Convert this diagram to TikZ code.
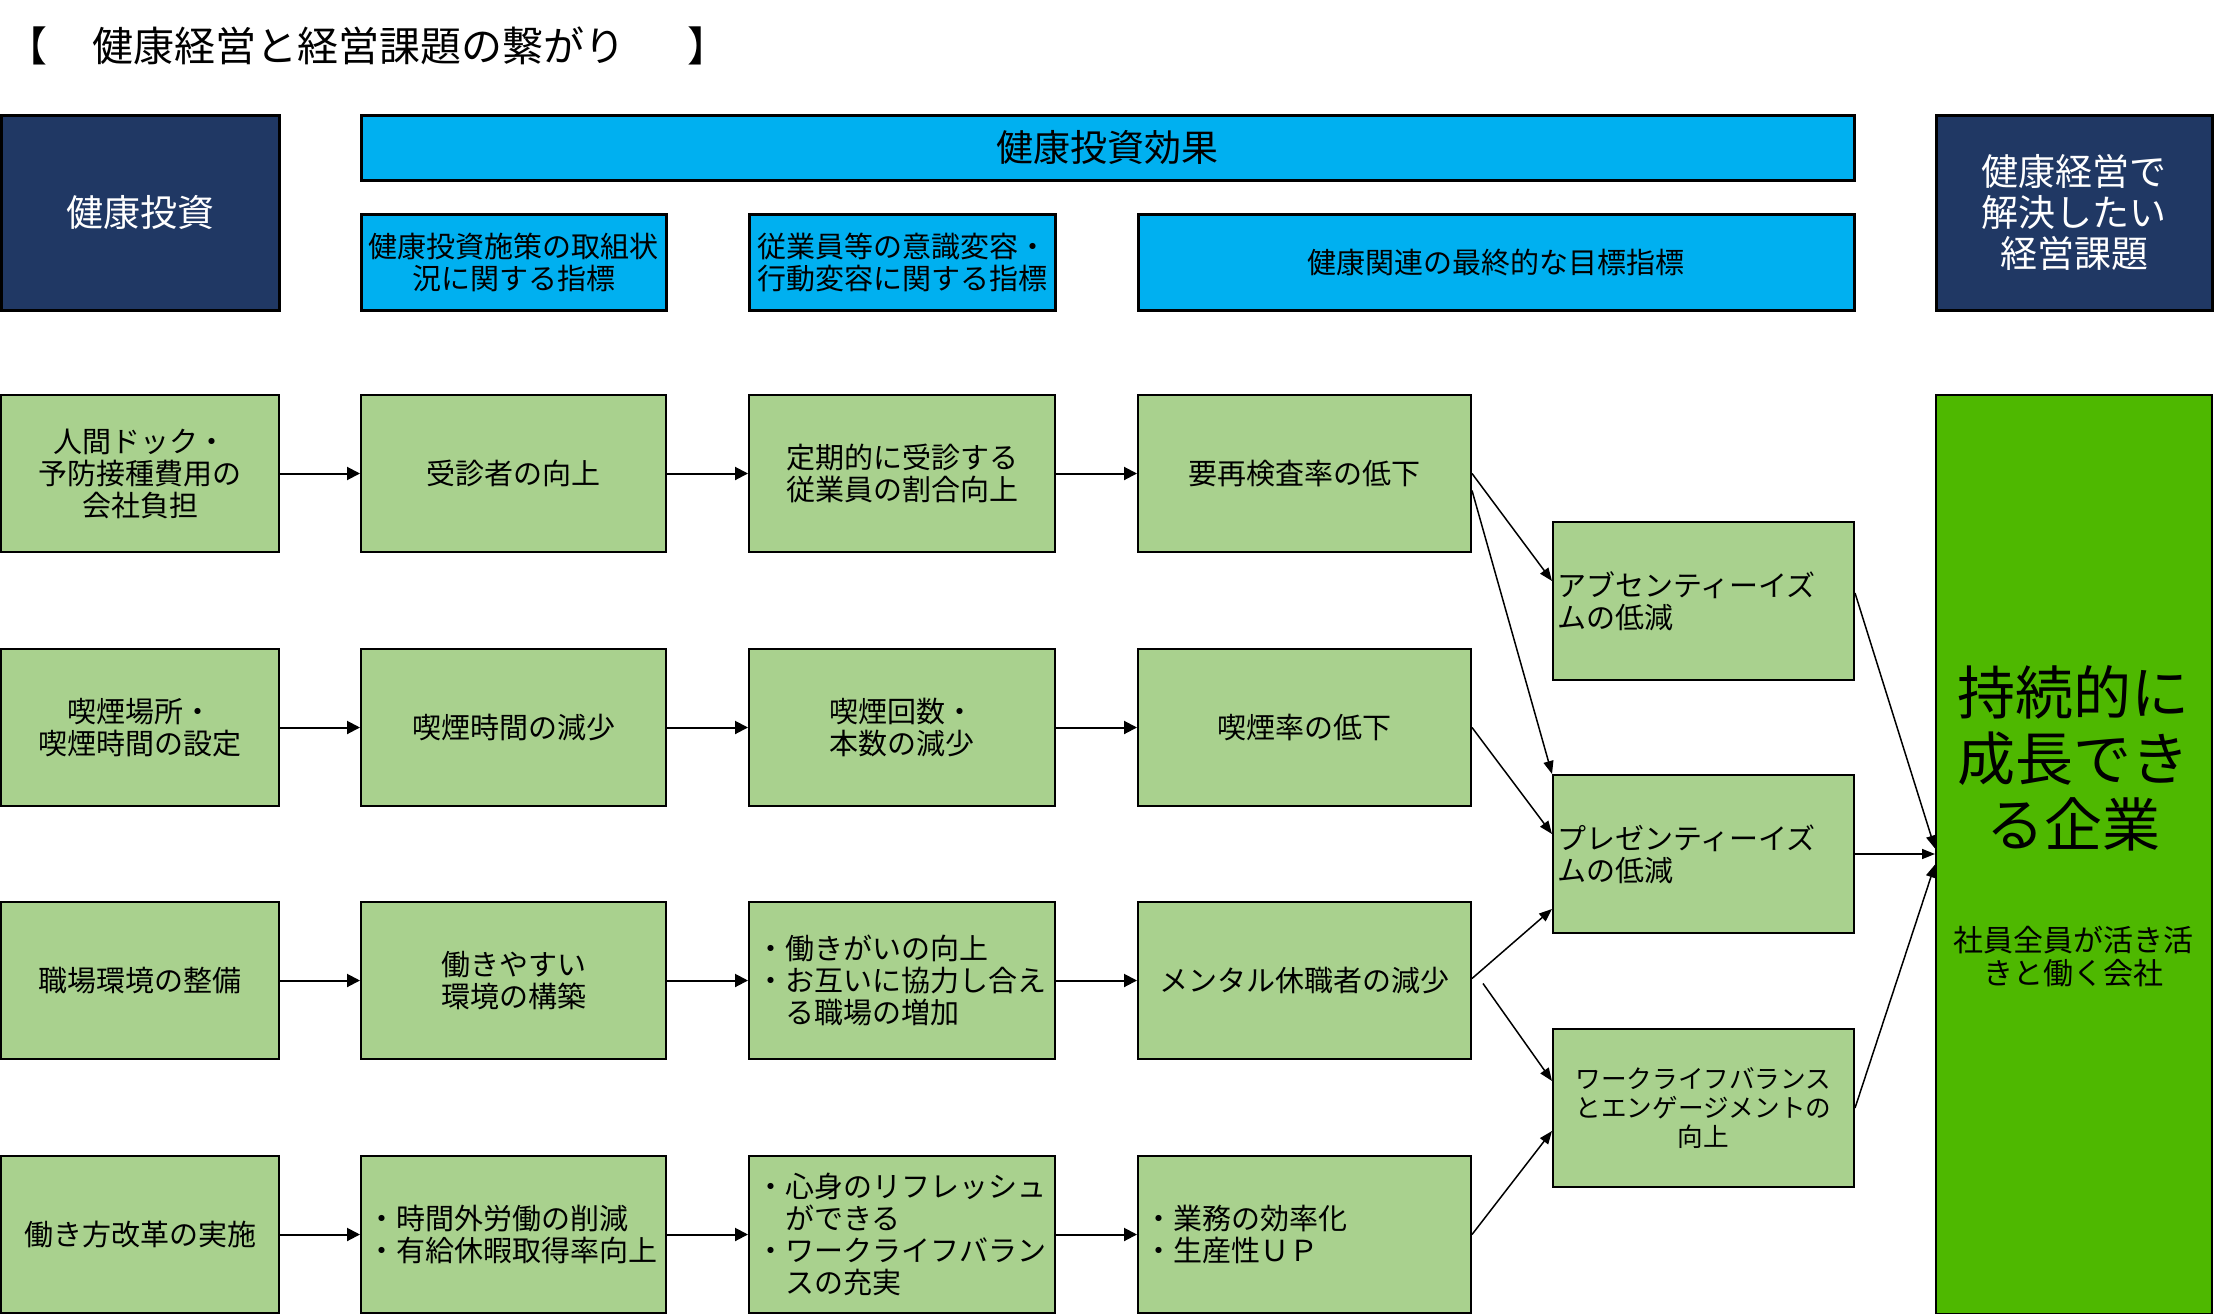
\documentclass[tikz,border=0pt]{standalone}
\usepackage{fontspec}
\setmainfont{Noto Sans CJK JP}
\usetikzlibrary{arrows.meta,calc}
\definecolor{navyc}{RGB}{32,56,100}
\definecolor{cyanc}{RGB}{0,176,240}
\definecolor{lgreen}{RGB}{169,209,142}
\definecolor{bgreen}{RGB}{78,184,0}
\newcommand\fsN{\fontsize{29}{32}\selectfont}
\newcommand\fsH{\fontsize{37}{41}\selectfont}
\begin{document}
\begin{tikzpicture}[x=1pt,y=-1pt,
  base/.style={draw=black, anchor=north west, inner sep=2pt, align=center, font=\fsN},
  navybox/.style={base, line width=2.5pt, fill=navyc, text=white, font=\fsH},
  cyanbox/.style={base, line width=2.5pt, fill=cyanc},
  gbox/.style={base, line width=2pt, fill=lgreen},
  w1/.style={minimum width=278pt, minimum height=157pt},
  w2/.style={minimum width=305pt, minimum height=157pt},
  w3/.style={minimum width=306pt, minimum height=157pt},
  w4/.style={minimum width=333pt, minimum height=157pt},
  w5/.style={minimum width=301pt, minimum height=158pt},
  flow/.style={-{Triangle[length=13pt,width=13pt]}, line width=2pt},
  diag/.style={-{Triangle[length=13pt,width=10pt]}, line width=1.5pt}]
\useasboundingbox (0,0) rectangle (2214,1314);

% title
\node[anchor=west, inner sep=0pt, font=\fontsize{41}{45}\selectfont] (title) at (6,46)
  {【\hspace*{45pt}健康経営と経営課題の繋がり\hspace*{62pt}】};

% headers
\node[navybox, minimum width=278pt, minimum height=195pt] (inv) at (0,114) {健康投資};
\node[cyanbox, font=\fsH, minimum width=1493pt, minimum height=65pt] (eff) at (360,114) {健康投資効果};
\node[cyanbox, minimum width=305pt, minimum height=96pt] (ind1) at (360,213) {健康投資施策の取組状\\況に関する指標};
\node[cyanbox, minimum width=306pt, minimum height=96pt] (ind2) at (748,213) {従業員等の意識変容・\\行動変容に関する指標};
\node[cyanbox, minimum width=716pt, minimum height=96pt] (ind3) at (1137,213) {健康関連の最終的な目標指標};
\node[navybox, minimum width=276pt, minimum height=195pt] (issue) at (1935,114) {健康経営で\\解決したい\\経営課題};

% row 1
\node[gbox,w1] (r1c1) at (0,394) {人間ドック・\\予防接種費用の\\会社負担};
\node[gbox,w2] (r1c2) at (360,394) {受診者の向上};
\node[gbox,w3] (r1c3) at (748,394) {定期的に受診する\\従業員の割合向上};
\node[gbox,w4] (r1c4) at (1137,394) {要再検査率の低下};
% row 2
\node[gbox,w1] (r2c1) at (0,648) {喫煙場所・\\喫煙時間の設定};
\node[gbox,w2] (r2c2) at (360,648) {喫煙時間の減少};
\node[gbox,w3] (r2c3) at (748,648) {喫煙回数・\\本数の減少};
\node[gbox,w4] (r2c4) at (1137,648) {喫煙率の低下};
% row 3
\node[gbox,w1] (r3c1) at (0,901) {職場環境の整備};
\node[gbox,w2] (r3c2) at (360,901) {働きやすい\\環境の構築};
\node[gbox,w3, align=left, text width=292pt, inner xsep=7pt] (r3c3) at (748,901)
  {・働きがいの向上\\・お互いに協力し合え\\\hspace*{1em}る職場の増加};
\node[gbox,w4] (r3c4) at (1137,901) {メンタル休職者の減少};
% row 4
\node[gbox,w1] (r4c1) at (0,1155) {働き方改革の実施};
\node[gbox,w2, align=left, text width=293pt, inner xsep=6pt] (r4c2) at (360,1155)
  {・時間外労働の削減\\・有給休暇取得率向上};
\node[gbox,w3, align=left, text width=292pt, inner xsep=7pt] (r4c3) at (748,1155)
  {・心身のリフレッシュ\\\hspace*{1em}ができる\\・ワークライフバラン\\\hspace*{1em}スの充実};
\node[gbox,w4, align=left, text width=321pt, inner xsep=6pt] (r4c4) at (1137,1155)
  {・業務の効率化\\・生産性ＵＰ};

% column 5
\node[gbox,w5, align=left, text width=293pt, inner xsep=4pt] (ab) at (1552,521) {アブセンティーイズ\\ムの低減};
\node[gbox,w5, align=left, text width=293pt, inner xsep=4pt] (pr) at (1552,774) {プレゼンティーイズ\\ムの低減};
\node[gbox,w5, font=\fontsize{25.6}{29}\selectfont] (wl) at (1552,1028) {ワークライフバランス\\とエンゲージメントの\\向上};

% goal
\node[base, line width=2pt, fill=bgreen, minimum width=276pt, minimum height=919pt] (goal) at (1935,394) {};
\node[align=center, inner sep=0pt, font=\fontsize{58}{66}\selectfont] (goalt) at (2073,758) {持続的に\\成長でき\\る企業};
\node[align=center, inner sep=0pt, font=\fontsize{30}{33}\selectfont] (goals) at (2073,957) {社員全員が活き活\\きと働く会社};

% row arrows
\foreach \i in {1,...,4}{
  \draw[flow] (r\i c1.east) -- (r\i c2.west);
  \draw[flow] (r\i c2.east) -- (r\i c3.west);
  \draw[flow] (r\i c3.east) -- (r\i c4.west);
}

% diagonal arrows
\draw[diag] (r1c4.east) -- ([yshift=20pt]ab.west);
\draw[diag] ([yshift=-17pt]r1c4.east) -- (pr.north west);
\draw[diag] (r2c4.east) -- ([yshift=20pt]pr.west);
\draw[diag] ([yshift=2pt]r3c4.east) -- ([yshift=-55pt]pr.west);
\draw[diag] ([xshift=11pt,yshift=-3pt]r3c4.east) -- ([yshift=27pt]wl.west);
\draw[diag] (r4c4.east) -- ([yshift=-23pt]wl.west);

\draw[diag] ([yshift=8pt]ab.east) -- ([yshift=6pt]goal.west);
\draw[diag] (pr.east) -- (pr.east -| goal.west);
\draw[diag] (wl.east) -- ([yshift=-10pt]goal.west);
\end{tikzpicture}
\end{document}
